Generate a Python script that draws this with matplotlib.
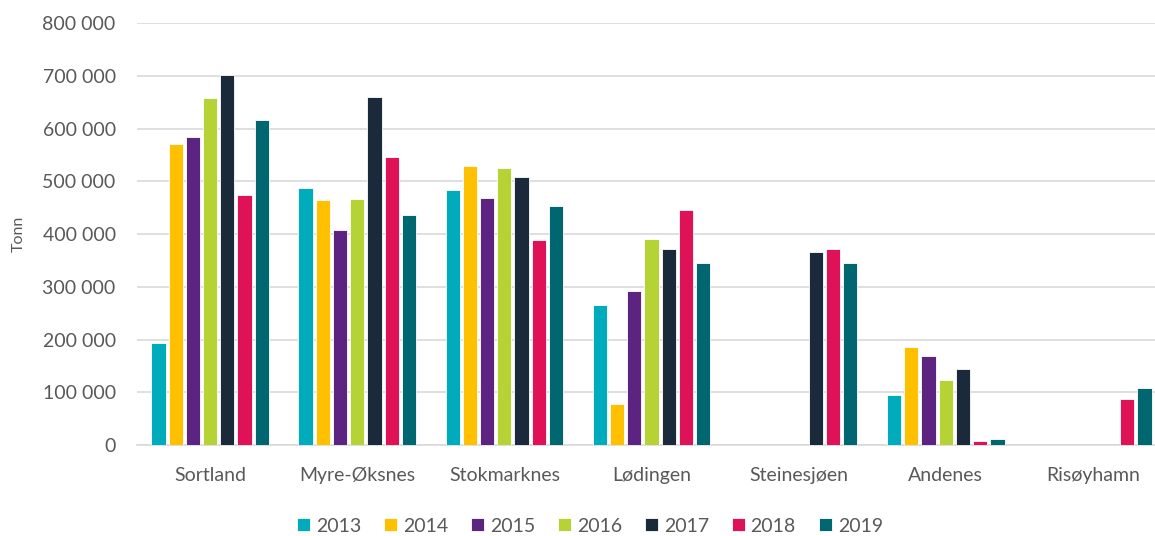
import matplotlib
matplotlib.use("Agg")
import matplotlib.pyplot as plt
import numpy as np
from matplotlib.ticker import FuncFormatter

categories = ["Sortland", "Myre-Øksnes", "Stokmarknes", "Lødingen", "Steinesjøen", "Andenes", "Risøyhamn"]
years = ["2013", "2014", "2015", "2016", "2017", "2018", "2019"]
v2013 = [194000, 488000, 483000, 266000, 0, 94000, 0]
v2014 = [571000, 464000, 529000, 77000, 0, 185000, 0]
v2015 = [585000, 408000, 469000, 292000, 0, 169000, 0]
v2016 = [658000, 467000, 525000, 390000, 0, 124000, 0]
v2017 = [701000, 660000, 508000, 371000, 367000, 145000, 0]
v2018 = [474000, 546000, 388000, 445000, 371000, 8000, 87000]
v2019 = [616000, 436000, 453000, 345000, 345000, 12000, 108000]
series = [v2013, v2014, v2015, v2016, v2017, v2018, v2019]
colors = ["#00abbb", "#ffc000", "#5c2480", "#b5d334", "#1b2a3a", "#e01257", "#006770"]

plt.rcParams['font.family'] = ['Lato', 'DejaVu Sans']
fig = plt.figure(figsize=(11.55, 5.36), dpi=100)
W, H = 1155, 536
left, right = 136.5, 1166.5
bottom_px, top_px = 445, 23.3
ax = fig.add_axes([left / W, (H - bottom_px) / H, (right - left) / W, (bottom_px - top_px) / H])

x = np.arange(len(categories))
n = len(series)
step = 0.117
bw = 0.097
for i, (vals, c, yr) in enumerate(zip(series, colors, years)):
    ax.bar(x + (i - (n - 1) / 2) * step, vals, width=bw, color=c, label=yr,
           edgecolor="white", linewidth=0.6, zorder=3)

ax.set_xlim(-0.5, len(categories) - 0.5)
ax.set_ylim(0, 800000)
ax.set_yticks(np.arange(0, 800001, 100000))
ax.yaxis.set_major_formatter(FuncFormatter(lambda v, p: f"{int(v):,}".replace(",", " ")))
ax.set_xticks(x)
ax.set_xticklabels(categories)
ax.grid(axis="y", color="#d9d9d9", linewidth=1.2, zorder=0)
for s in ["top", "right", "left"]:
    ax.spines[s].set_visible(False)
ax.spines["bottom"].set_color("#d9d9d9")
ax.spines["bottom"].set_linewidth(1.2)
ax.tick_params(axis="both", length=0, colors="#595959", labelsize=14)
ax.tick_params(axis="y", pad=15)
ax.tick_params(axis="x", pad=16)
ax.set_ylabel("Tonn", color="#595959", fontsize=11.5, labelpad=12)

leg = ax.legend(loc="center", bbox_to_anchor=(590 / W, 10 / H), bbox_transform=fig.transFigure,
                ncol=7, frameon=False, fontsize=14, handlelength=0.65, handleheight=0.65,
                handletextpad=0.3, columnspacing=1.2, labelcolor="#595959", borderpad=0)

fig.savefig("out.png", dpi=100)
